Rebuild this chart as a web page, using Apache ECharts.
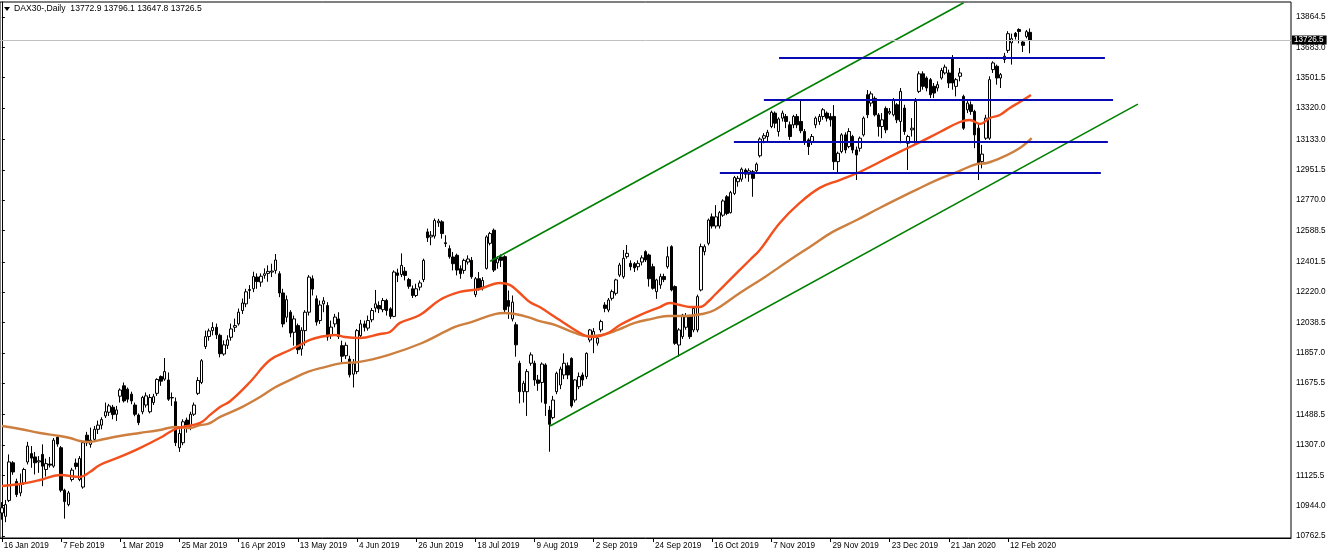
<!DOCTYPE html>
<html>
<head>
<meta charset="utf-8">
<script src="https://cdn.jsdelivr.net/npm/echarts@6/dist/echarts.min.js"></script>
<style>
html,body{margin:0;padding:0;background:#fff;}
#chart{width:1332px;height:558px;}
</style>
</head>
<body>
<div id="chart"></div>
<script>
// ---- Data ----
const symbolTitle = 'DAX30-,Daily';
const lastBarText = '13772.9 13796.1 13647.8 13726.5';
const bidPrice = 13726.5;

const firstDate = '2019-01-16';
const holidays = ['2019-04-19','2019-04-22','2019-05-01','2019-12-24','2019-12-25','2019-12-26','2019-12-31','2020-01-01'];

const xTickLabels = ['16 Jan 2019','7 Feb 2019','1 Mar 2019','25 Mar 2019','16 Apr 2019','13 May 2019','4 Jun 2019','26 Jun 2019','18 Jul 2019','9 Aug 2019','2 Sep 2019','24 Sep 2019','16 Oct 2019','7 Nov 2019','29 Nov 2019','23 Dec 2019','21 Jan 2020','12 Feb 2020'];
const xTickEvery = 16;
const yTicks = [13864.5,13683.0,13501.5,13320.0,13133.0,12951.5,12770.0,12588.5,12401.5,12220.0,12038.5,11857.0,11675.5,11488.5,11307.0,11125.5,10944.0,10762.5];

// [open, close, low, high]
const ohlc = [
[10900,10931,10860,10965],[10880,10950,10845,10978],[10975,11205,10965,11250],[11200,11145,11128,11210],[11088,11010,10995,11105],
[11020,11075,11000,11135],[11078,11160,11068,11170],[11205,11300,11190,11325],[11255,11228,11170,11300],[11235,11200,11130,11265],
[11205,11212,11140,11240],[11250,11180,11060,11310],[11160,11195,11118,11225],[11192,11186,11172,11235],[11180,11335,11170,11348],
[11352,11312,11296,11366],[11290,11036,11024,11300],[11036,10968,10866,11045],[10950,11020,10940,11032],[11100,11156,11088,11170],
[11198,11178,11160,11225],[11100,11226,11090,11240],[11055,11320,11045,11330],[11365,11320,11300,11385],[11310,11335,11290,11410],
[11340,11400,11325,11420],[11400,11425,11372,11452],[11425,11458,11400,11472],[11480,11505,11468,11560],[11502,11540,11480,11552],
[11532,11488,11460,11546],[11490,11516,11450,11540],[11598,11635,11560,11645],[11660,11570,11560,11680],[11640,11580,11560,11650],
[11610,11570,11550,11625],[11545,11490,11478,11560],[11485,11440,11425,11495],[11505,11590,11490,11600],[11545,11600,11530,11620],
[11505,11590,11495,11610],[11560,11595,11545,11612],[11615,11698,11600,11705],[11715,11688,11660,11722],[11700,11745,11690,11826],
[11695,11580,11570,11740],[11590,11588,11540,11620],[11565,11320,11300,11590],[11290,11375,11265,11400],[11320,11445,11305,11460],
[11455,11425,11380,11470],[11420,11490,11395,11505],[11490,11545,11480,11560],[11615,11692,11605,11712],[11680,11810,11670,11820],
[11895,11954,11880,11990],[11955,11988,11930,12002],[11990,12009,11962,12040],[12010,11965,11940,12032],[11962,11852,11830,11972],
[11850,11905,11840,11932],[11902,11935,11880,11962],[11950,12000,11930,12032],[12010,12020,11982,12062],[12030,12100,12020,12122],
[12110,12155,12090,12182],[12150,12222,12130,12240],[12230,12236,12180,12262],[12240,12313,12220,12342],[12310,12283,12240,12332],
[12280,12315,12252,12332],[12320,12330,12300,12362],[12332,12344,12282,12380],[12340,12346,12310,12390],[12350,12412,12330,12448],
[12330,12215,12190,12345],[12215,12030,12010,12240],[12070,12175,12040,12200],[12100,11975,11950,12112],[11980,12060,11900,12080],
[12020,11876,11850,12032],[11880,11992,11840,12010],[11990,12100,11900,12112],[12100,12310,12080,12322],[12300,12238,12200,12320],
[12180,12041,12020,12200],[12050,12143,12030,12170],[12150,12168,12100,12190],[12140,11952,11930,12160],[11960,12011,11940,12050],
[12030,12071,12010,12090],[12060,11954,11940,12100],[11900,11837,11800,11930],[11840,11902,11820,11920],[11820,11726,11710,11840],
[11730,11792,11650,11820],[11745,11990,11730,12000],[11960,12030,11950,12054],[12030,12010,11985,12050],[12005,12050,11990,12080],
[12055,12110,12040,12125],[12125,12150,12100,12233],[12140,12120,12095,12165],[12115,12170,12100,12185],[12170,12110,12080,12180],
[12120,12075,12060,12130],[12075,12340,12070,12350],[12335,12320,12280,12360],[12325,12380,12310,12452],[12345,12320,12290,12370],
[12295,12255,12240,12305],[12240,12200,12185,12260],[12200,12240,12190,12270],[12250,12275,12230,12290],[12295,12410,12280,12420],
[12580,12545,12520,12600],[12550,12560,12500,12585],[12555,12648,12540,12660],[12635,12645,12610,12658],[12640,12570,12540,12650],
[12515,12510,12490,12560],[12480,12432,12420,12500],[12430,12390,12350,12460],[12440,12352,12320,12450],[12360,12330,12300,12380],
[12350,12410,12330,12420],[12400,12418,12385,12440],[12410,12312,12300,12430],[12205,12300,12190,12310],[12300,12245,12230,12340],
[12250,12290,12230,12310],[12362,12550,12355,12560],[12512,12570,12500,12580],[12590,12352,12340,12600],[12395,12420,12360,12435],
[12430,12410,12370,12445],[12432,12115,12100,12440],[12170,12135,12060,12230],[12060,12160,12045,12200],[12025,11905,11834,12040],
[11795,11625,11555,11810],[11625,11675,11560,11690],[11625,11745,11480,11760],[11795,11845,11780,11860],[11795,11695,11660,11810],
[11695,11675,11630,11725],[11680,11790,11560,11800],[11785,11555,11480,11795],[11515,11430,11266,11540],[11470,11575,11460,11600],
[11625,11735,11610,11745],[11665,11760,11640,11775],[11725,11795,11700,11854],[11780,11725,11700,11800],[11824,11540,11530,11830],
[11575,11695,11560,11700],[11655,11715,11640,11740],[11725,11695,11660,11740],[11715,11854,11700,11860],[11934,11994,11920,12000],
[11960,11985,11855,12005],[11915,11945,11900,11960],[11994,12044,11980,12055],[12143,12123,12100,12160],[12113,12173,12100,12185],
[12183,12223,12170,12235],[12213,12293,12200,12300],[12322,12382,12310,12395],[12312,12422,12300,12472],[12432,12452,12420,12502],
[12392,12372,12350,12410],[12390,12365,12340,12400],[12372,12392,12350,12410],[12400,12425,12380,12440],[12462,12412,12400,12470],
[12442,12300,12253,12450],[12372,12243,12235,12390],[12223,12293,12180,12300],[12263,12313,12240,12330],[12313,12295,12280,12330],
[12372,12432,12360,12492],[12492,12233,12225,12500],[12253,11914,11905,12260],[11904,11994,11834,12005],[11954,12083,11940,12090],
[12010,12073,11995,12095],[12073,11954,11940,12085],[11994,12123,11980,12130],[11994,12193,11980,12205],[12233,12492,12225,12510],
[12462,12492,12440,12505],[12512,12651,12500,12660],[12670,12615,12600,12690],[12615,12670,12600,12740],[12615,12695,12600,12705],
[12680,12765,12670,12775],[12790,12690,12680,12800],[12695,12815,12690,12825],[12810,12905,12800,12915],[12880,12900,12850,12915],
[12895,12955,12880,12965],[12950,12925,12900,12960],[12925,12945,12880,12960],[12940,12900,12790,12950],[12945,12985,12930,12995],
[13035,13135,13025,13145],[13140,13155,13110,13170],[13150,13175,13120,13190],[13210,13295,13200,13305],[13290,13230,13200,13300],
[13180,13255,13150,13265],[13260,13290,13240,13305],[13270,13240,13200,13285],[13220,13150,13130,13240],[13220,13270,13200,13280],
[13270,13220,13200,13285],[13240,13185,13170,13368],[13180,13120,13100,13195],[13130,13090,13040,13140],[13120,13150,13100,13165],
[13220,13260,13200,13270],[13240,13270,13220,13285],[13270,13310,13250,13320],[13290,13260,13240,13300],[13270,13250,13210,13290],
[13270,13000,12950,13338],[13000,13050,12930,13060],[13060,13160,13050,13170],[13160,13070,13050,13175],[13090,13180,13080,13200],
[13150,13070,13050,13160],[13070,13040,12890,13090],[13080,13140,13060,13150],[13160,13260,13150,13270],[13400,13280,13260,13428],
[13350,13405,13330,13420],[13378,13280,13270,13390],[13279,13210,13150,13290],[13210,13250,13140,13290],[13318,13190,13170,13330],
[13290,13300,13280,13320],[13280,13370,13270,13380],[13340,13250,13230,13350],[13240,13420,13110,13440],[13320,13180,13160,13340],
[13110,13150,12950,13160],[13190,13200,13150,13260],[13110,13360,13100,13380],[13420,13525,13410,13540],[13525,13450,13430,13540],
[13500,13440,13420,13510],[13490,13400,13380,13500],[13450,13410,13380,13470],[13440,13460,13420,13480],[13500,13545,13490,13560],
[13530,13565,13520,13580],[13530,13470,13440,13550],[13615,13470,13430,13637],[13450,13490,13390,13500],[13510,13530,13480,13560],
[13390,13200,13190,13400],[13310,13350,13290,13370],[13340,13300,13280,13360],[13300,13160,13080,13310],[13200,12990,12890,13230],
[13000,13045,12960,13100],[13140,13260,13130,13280],[13140,13490,13130,13510],[13550,13590,13530,13600],[13570,13500,13460,13580],
[13500,13520,13440,13530],[13610,13630,13590,13650],[13665,13765,13650,13780],[13710,13735,13580,13765],[13767,13748,13730,13775],
[13790,13778,13707,13797],[13715,13695,13655,13727],[13748,13777,13737,13787],[13772.9,13726.5,13647.8,13796.1]
];

// moving averages: [bar index, value]
const maFast = [[0,11061],[4.9,11073],[10.3,11097],[15.7,11127],[21.1,11115],[23.8,11145],[26.5,11187],[31.9,11235],[37.3,11288],[42.7,11348],[45.4,11384],[47.6,11408],[53.6,11438],[56.3,11486],[59,11533],[61.7,11568],[67.1,11683],[72.5,11814],[77.9,11874],[80.6,11904],[83.3,11934],[86,11952],[90,11964],[92.7,11952],[96.8,11946],[102.2,11970],[104.9,11982],[107.6,12036],[113,12083],[118.4,12173],[123.8,12221],[129.2,12239],[134.6,12275],[137.3,12263],[140,12215],[142.7,12161],[145.4,12131],[150.8,12053],[156.3,11976],[159,11952],[161.7,11958],[164.4,11982],[167.1,12024],[172.5,12083],[177.9,12131],[180.6,12155],[183.3,12143],[186,12131],[188.7,12131],[191.4,12173],[192.7,12203],[196.8,12293],[202.2,12412],[204.9,12472],[210.3,12633],[215.7,12753],[221.1,12843],[226.5,12890],[231.9,12938],[237.3,12998],[242.7,13058],[248.2,13117],[253.6,13177],[259,13237],[261.7,13249],[264.4,13225],[267.1,13261],[269.8,13279],[272.5,13321],[275.2,13356],[278.2,13398]];
const maSlow = [[0,11420],[4.9,11402],[10.3,11378],[15.7,11360],[18.4,11348],[21.1,11330],[23.8,11324],[26.5,11336],[31.9,11360],[37.3,11378],[42.7,11396],[46.8,11414],[50.9,11408],[53.6,11426],[55.7,11432],[59,11474],[64.9,11533],[69.8,11593],[73.8,11650],[78.4,11700],[82.7,11743],[87.3,11772],[91.9,11796],[96.3,11802],[104.4,11844],[113.6,11916],[122.5,12012],[127.1,12042],[133.3,12089],[136,12095],[138.7,12089],[142.2,12071],[145.4,12047],[149.5,12024],[154.9,11976],[158.4,11958],[162.2,11964],[166.5,11994],[171.1,12036],[175.7,12060],[180,12077],[184.6,12077],[189.2,12089],[192.7,12113],[199.5,12215],[206.3,12311],[213,12412],[218.4,12490],[224.6,12580],[231.1,12651],[237.3,12723],[247.6,12836],[252.7,12890],[258.2,12938],[263.6,12986],[266.3,12992],[270.6,13028],[275.2,13082],[278.4,13141]];

// drawn objects: [startIndex, startValue, endIndex, endValue]
const channelLines = [[132,12405,260,13950],[148.2,11420,307.1,13344]];
// [startIndex, value, endIndex]
const levelLines = [[210.1,13619.5,298.2],[206.0,13368.4,300.4],[197.9,13117.4,299.0],[194.1,12932.1,297.1]];

// ---- Build categories ----
const totalSlots = 349;
function tradingDates(start, n) {
  const out = [];
  const d = new Date(start + 'T00:00:00Z');
  while (out.length < n) {
    const dow = d.getUTCDay();
    const s = d.toISOString().slice(0, 10);
    if (dow !== 0 && dow !== 6 && holidays.indexOf(s) < 0) out.push(s);
    d.setUTCDate(d.getUTCDate() + 1);
  }
  return out;
}
const categories = tradingDates(firstDate, ohlc.length);
for (let i = ohlc.length; i < totalSlots; i++) categories.push('f' + i);

function isTickIdx(idx) { return idx % xTickEvery === 0 && idx / xTickEvery < xTickLabels.length; }

const FONT = 'Liberation Sans';
const chart = echarts.init(document.getElementById('chart'), null, {renderer: 'canvas'});

const series = [
  {
    type: 'candlestick', xAxisIndex: 0, yAxisIndex: 0,
    data: ohlc, barWidth: 3,
    itemStyle: {color: '#ffffff', color0: '#000000', borderColor: '#000000', borderColor0: '#000000', borderWidth: 1},
    markLine: {
      silent: true, symbol: 'none', z: 10,
      lineStyle: {color: '#c0c0c0', width: 1, type: 'solid'},
      label: {show: true, position: 'end', distance: 1, formatter: String(bidPrice.toFixed(1)), color: '#fff', backgroundColor: '#000', padding: [1, 3, 0, 2], fontSize: 8.2, fontFamily: FONT},
      emphasis: {disabled: true},
      data: [{yAxis: bidPrice}]
    },
    z: 2
  },
  {type: 'line', xAxisIndex: 1, yAxisIndex: 0, data: maSlow, smooth: 0.4, showSymbol: false, lineStyle: {color: '#CD7F3F', width: 2.4}, z: 3, silent: true},
  {type: 'line', xAxisIndex: 1, yAxisIndex: 0, data: maFast, smooth: 0.4, showSymbol: false, lineStyle: {color: '#F2501C', width: 2.4}, z: 4, silent: true}
];
channelLines.forEach(l => series.push({type: 'line', xAxisIndex: 1, yAxisIndex: 0, data: [[l[0], l[1]], [l[2], l[3]]], showSymbol: false, clip: true, lineStyle: {color: '#008000', width: 1.6}, z: 5, silent: true}));
levelLines.forEach(l => series.push({type: 'line', xAxisIndex: 1, yAxisIndex: 0, data: [[l[0], l[1]], [l[2], l[1]]], showSymbol: false, lineStyle: {color: '#0A0AB4', width: 2}, z: 6, silent: true}));

chart.setOption({
  animation: false,
  backgroundColor: '#ffffff',
  grid: {left: 0, right: 41, top: 2, bottom: 20, show: true, borderColor: '#000', borderWidth: 1, backgroundColor: 'transparent'},
  xAxis: [
    {
      type: 'category', data: categories, boundaryGap: true,
      axisLine: {show: true, lineStyle: {color: '#000', width: 1}},
      axisTick: {show: true, alignWithLabel: true, length: 4, interval: (idx) => isTickIdx(idx), lineStyle: {color: '#000'}},
      axisLabel: {
        show: true, interval: (idx) => isTickIdx(idx), align: 'left', margin: 4, padding: [0, 0, 0, 2],
        showMinLabel: true, hideOverlap: false,
        fontSize: 8.2, fontFamily: FONT, color: '#000',
        formatter: (val, idx) => isTickIdx(idx) ? xTickLabels[idx / xTickEvery] : ''
      },
      splitLine: {show: false}
    },
    {type: 'value', min: -0.5, max: totalSlots - 0.5, show: false}
  ],
  yAxis: [{
    type: 'value', position: 'right', min: 10750.4, max: 13954.2, scale: true,
    axisLine: {show: true, lineStyle: {color: '#000'}},
    axisTick: {show: true, length: 3, customValues: yTicks, lineStyle: {color: '#000'}},
    axisLabel: {show: true, customValues: yTicks, margin: 5, fontSize: 8.2, fontFamily: FONT, color: '#000', formatter: (v) => v.toFixed(1)},
    splitLine: {show: false}
  }],
  graphic: [
    {type: 'polygon', shape: {points: [[4, 7], [10, 7], [7, 11]]}, style: {fill: '#000'}},
    {type: 'text', left: 14, top: 4, style: {text: symbolTitle + '  ' + lastBarText, fontSize: 8.6, fontFamily: FONT, fill: '#000'}}
  ],
  series: series
});
</script>
</body>
</html>
